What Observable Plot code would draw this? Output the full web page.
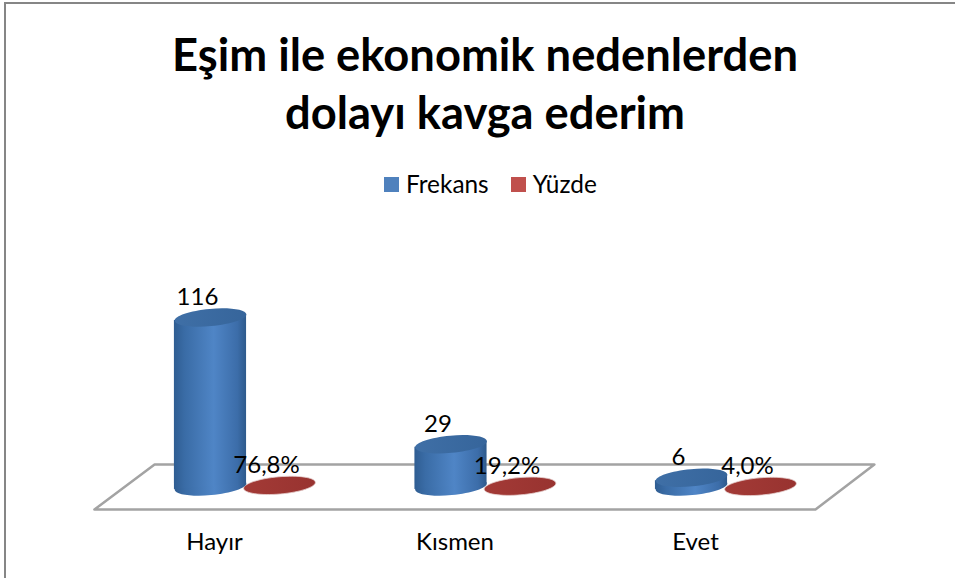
<!DOCTYPE html>
<html lang="tr">
<head>
<meta charset="utf-8">
<script src="https://cdn.jsdelivr.net/npm/d3@7"></script>
<script src="https://cdn.jsdelivr.net/npm/@observablehq/plot@0.6"></script>
<style>
  html, body { margin: 0; padding: 0; background: #fff; overflow: hidden; }
  body { width: 955px; height: 578px; position: relative; font-family: Lato, "Open Sans", sans-serif; color: #000; }
  #frame { position: absolute; left: 4px; top: 2px; right: 0; bottom: 0; border-left: 2px solid #868686; border-top: 2px solid #868686; pointer-events: none; }
  #head { height: 205px; position: relative; }
  h1 { margin: 0; position: absolute; left: 15px; right: 0; top: 25px; text-align: center; font-size: 45.3px; line-height: 58px; font-weight: 700; }
  #legend { position: absolute; left: 384px; top: 168px; display: flex; align-items: center; font-size: 24.4px; line-height: 32px; }
  #legend i { display: inline-block; width: 15px; height: 15px; margin-right: 7px; }
  #legend span { margin-right: 22px; }
  #chart { display: block; }
</style>
</head>
<body>
<div id="frame"></div>
<div id="head">
  <h1>Eşim ile ekonomik nedenlerden<br>dolayı kavga ederim</h1>
  <div id="legend"></div>
</div>
<div id="chart"></div>
<script>
const categories = ["Hayır", "Kısmen", "Evet"];
const seriesNames = ["Frekans", "Yüzde"];
const seriesColors = ["#4f81bd", "#c0504d"];
const frekans = [116, 29, 6];
const yuzde = [0.768, 0.192, 0.04];
const yuzdeLabels = ["76,8%", "19,2%", "4,0%"];
const floorX = [-0.626, 2.372, 2.617, -0.376, -0.626];
const floorY = [-15.8, -15.8, 15.1, 15.1, -15.8];

const legend = document.getElementById("legend");
seriesNames.forEach((n, i) => {
  legend.insertAdjacentHTML("beforeend", `<i style="background:${seriesColors[i]}"></i><span>${n}</span>`);
});

// Tilted flat ellipse, the cross-section of a 3D cylinder
const ellipseSymbol = {
  draw(ctx, size) {
    const rx = Math.sqrt(size / Math.PI), ry = rx * 0.24;
    const a = -5 * Math.PI / 180, c = Math.cos(a), s = Math.sin(a), k = 0.5523;
    const P = (x, y) => [x * c - y * s, x * s + y * c];
    ctx.moveTo(...P(rx, 0));
    ctx.bezierCurveTo(...P(rx, k * ry), ...P(k * rx, ry), ...P(0, ry));
    ctx.bezierCurveTo(...P(-k * rx, ry), ...P(-rx, k * ry), ...P(-rx, 0));
    ctx.bezierCurveTo(...P(-rx, -k * ry), ...P(-k * rx, -ry), ...P(0, -ry));
    ctx.bezierCurveTo(...P(k * rx, -ry), ...P(rx, -k * ry), ...P(rx, 0));
    ctx.closePath();
  }
};

const blueOffset = -0.1435, redOffset = 0.1435, halfWidth = 0.15, tilt = 2.1;
const blue = categories.map((c, i) => ({c, x: i + blueOffset, v: frekans[i], label: String(frekans[i])}));
const red = categories.map((c, i) => ({c, x: i + redOffset, v: yuzde[i], label: yuzdeLabels[i]}));
const body = blue.flatMap(d => [
  {c: d.c, x: d.x - halfWidth, y1: -tilt, y2: d.v - tilt},
  {c: d.c, x: d.x + halfWidth, y1: tilt, y2: d.v + tilt}
]);
const floorPts = floorX.map((x, i) => ({x, y: floorY[i]}));

function gradients() {
  const defs = d3.create("svg:defs");
  const add = (id, stops, x2 = "100%", y2 = "0%") => {
    const g = defs.append("linearGradient").attr("id", id)
      .attr("x1", "0%").attr("y1", "0%").attr("x2", x2).attr("y2", y2);
    stops.forEach(([o, col]) => g.append("stop").attr("offset", o).attr("stop-color", col));
  };
  add("cyl", [["0%", "#2f5d92"], ["15%", "#3a6ca6"], ["55%", "#4f85c6"], ["88%", "#3c6da9"], ["100%", "#2e5a8c"]]);
  add("cap", [["0%", "#3f6fa6"], ["100%", "#36659b"]], "100%", "0%");
  add("red", [["0%", "#a33a36"], ["100%", "#983330"]], "100%", "0%");
  return defs.node();
}

const plot = Plot.plot({
  width: 955,
  height: 373,
  marginBottom: 48,
  style: {fontFamily: "Lato, 'Open Sans', sans-serif", color: "#000", background: "transparent"},
  x: {axis: null, domain: [0, 2], range: [244.5, 725.5]},
  y: {axis: null, domain: [0, 116], range: [281, 112]},
  marks: [
    gradients,
    Plot.line(floorPts, {x: "x", y: "y", stroke: "#a3a3a3", strokeWidth: 2.5}),
    Plot.dot(red, {x: "x", y: "v", r: 36, symbol: ellipseSymbol, fill: "url(#red)", stroke: "#e6d0cf", strokeWidth: 0.8}),
    Plot.dot(blue, {x: "x", y: 0, r: 36, symbol: ellipseSymbol, fill: "url(#cyl)", stroke: "none"}),
    Plot.areaY(body, {x: "x", y1: "y1", y2: "y2", z: "c", fill: "url(#cyl)"}),
    Plot.dot(blue, {x: "x", y: "v", r: 36, symbol: ellipseSymbol, fill: "url(#cap)", stroke: "none"}),
    Plot.text(blue, {x: "x", y: "v", text: "label", dx: -13, dy: -20, fontSize: 24, fill: "#000"}),
    Plot.text(red, {x: "x", y: "v", text: "label", dx: -13, dy: -20, fontSize: 24, fill: "#000"}),
    Plot.axisX({ticks: [0, 1, 2], tickFormat: i => categories[i], tickSize: 0, dx: -30.5, tickPadding: 2, fontSize: 24, label: null, anchor: "bottom"})
  ]
});
document.getElementById("chart").appendChild(plot);
</script>
</body>
</html>
